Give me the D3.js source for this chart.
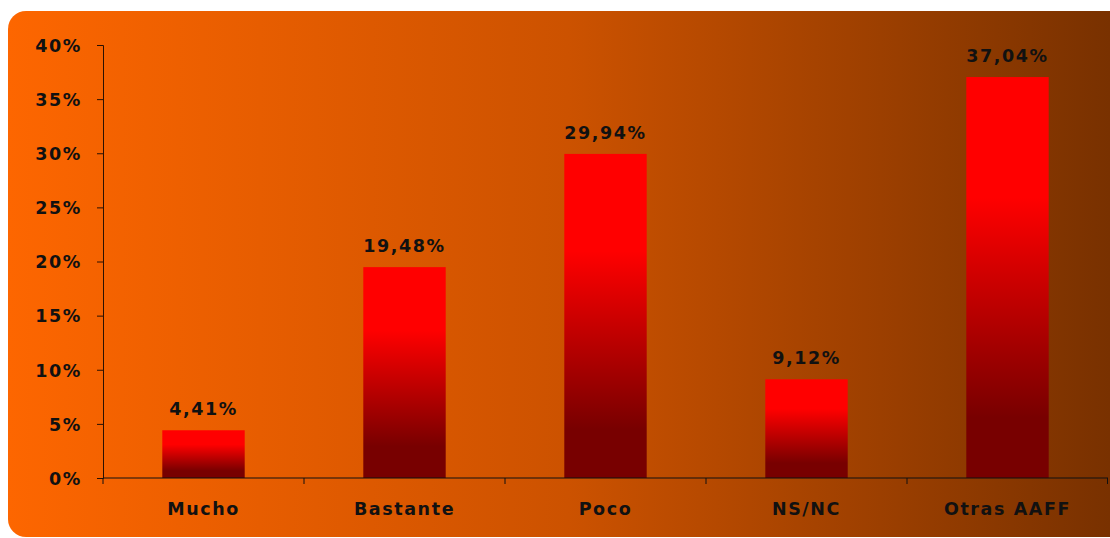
<!DOCTYPE html>
<html>
<head>
	<meta charset="utf-8">
	<script src="https://d3js.org/d3.v7.min.js"></script>
	<style>
		html, body {
			margin: 0;
			background: #fff;
			overflow: hidden;
		}
		text {
			font-family: "DejaVu Sans", Verdana, sans-serif;
			font-weight: bold;
			fill: #111;
		}
	</style>
</head>
<body>
	<svg id="svg"></svg>
	<script>
		const categories = ["Mucho", "Bastante", "Poco", "NS/NC", "Otras AAFF"];
		const values = [4.41, 19.48, 29.94, 9.12, 37.04];
		const valueLabels = ["4,41%", "19,48%", "29,94%", "9,12%", "37,04%"];
		const yTicks = [0, 5, 10, 15, 20, 25, 30, 35, 40];

		const width = 1110, height = 538;
		const margins = { top: 45, left: 103, right: 2, bottom: 60 };

		const svg = d3.select("#svg")
		.attr("width", width)
		.attr("height", height);

		const defs = svg.append("defs");

		const bg = defs.append("linearGradient")
		.attr("id", "bg")
		.attr("x1", "0").attr("y1", "0").attr("x2", "1").attr("y2", "0");
		bg.append("stop").attr("offset", "0").attr("stop-color", "#fd6600");
		bg.append("stop").attr("offset", "0.5").attr("stop-color", "#cc5200");
		bg.append("stop").attr("offset", "1").attr("stop-color", "#763000");

		const barGrad = defs.append("linearGradient")
		.attr("id", "bar")
		.attr("x1", "0").attr("y1", "0").attr("x2", "0").attr("y2", "1");
		barGrad.append("stop").attr("offset", "0").attr("stop-color", "#ff0000");
		barGrad.append("stop").attr("offset", "0.3").attr("stop-color", "#ff0000");
		barGrad.append("stop").attr("offset", "0.85").attr("stop-color", "#780000");
		barGrad.append("stop").attr("offset", "1").attr("stop-color", "#780000");

		// background panel
		svg.append("rect")
		.attr("x", 8).attr("y", 11)
		.attr("width", 1120).attr("height", 526)
		.attr("rx", 18).attr("ry", 18)
		.attr("fill", "url(#bg)");

		const graphWidth = width - margins.left - margins.right;
		const graphHeight = 478 - margins.top;

		const scaleX = d3.scaleBand()
		.domain(categories)
		.range([0, graphWidth])
		.paddingInner(0.59)
		.paddingOuter(0.295);

		const scaleY = d3.scaleLinear()
		.domain([0, 40])
		.range([graphHeight, 0]);

		const g = svg.append("g")
		.attr("transform", `translate(${margins.left}, ${margins.top})`);

		g.selectAll("rect.bar")
		.data(values)
		.enter()
		.append("rect")
		.attr("class", "bar")
		.attr("x", (d, i) => scaleX(categories[i]))
		.attr("y", d => scaleY(d))
		.attr("width", scaleX.bandwidth())
		.attr("height", d => graphHeight - scaleY(d))
		.attr("fill", "url(#bar)");

		g.selectAll("text.val")
		.data(values)
		.enter()
		.append("text")
		.attr("class", "val")
		.attr("x", (d, i) => scaleX(categories[i]) + scaleX.bandwidth() / 2)
		.attr("y", d => scaleY(d) - 15)
		.attr("text-anchor", "middle")
		.style("font-size", "17.5px")
		.style("letter-spacing", "1.6px")
		.text((d, i) => valueLabels[i]);

		// y axis
		const yAxis = g.append("g")
		.call(d3.axisLeft(scaleY).tickValues(yTicks).tickSize(6).tickPadding(15).tickFormat(d => d + "%"));
		yAxis.selectAll("text").style("font-size", "17.5px").style("letter-spacing", "1.6px").attr("dy", "0.36em");

		// x axis with boundary ticks
		const xAxis = g.append("g")
		.attr("transform", `translate(0, ${graphHeight})`);
		xAxis.append("line")
		.attr("x1", 0).attr("x2", graphWidth)
		.attr("stroke", "#111");
		const step = scaleX.step();
		xAxis.selectAll("line.tick")
		.data(d3.range(categories.length + 1))
		.enter()
		.append("line")
		.attr("class", "tick")
		.attr("x1", i => Math.min(i * step, graphWidth - 0.5))
		.attr("x2", i => Math.min(i * step, graphWidth - 0.5))
		.attr("y1", 0).attr("y2", 6)
		.attr("stroke", "#111");
		xAxis.selectAll("text")
		.data(categories)
		.enter()
		.append("text")
		.attr("x", d => scaleX(d) + scaleX.bandwidth() / 2)
		.attr("y", 37)
		.attr("text-anchor", "middle")
		.style("font-size", "17.5px")
		.style("letter-spacing", "1.6px")
		.text(d => d);

		yAxis.select(".domain").attr("stroke", "#2a1000");
		yAxis.selectAll(".tick line").attr("stroke", "#2a1000");
	</script>
</body>
</html>
